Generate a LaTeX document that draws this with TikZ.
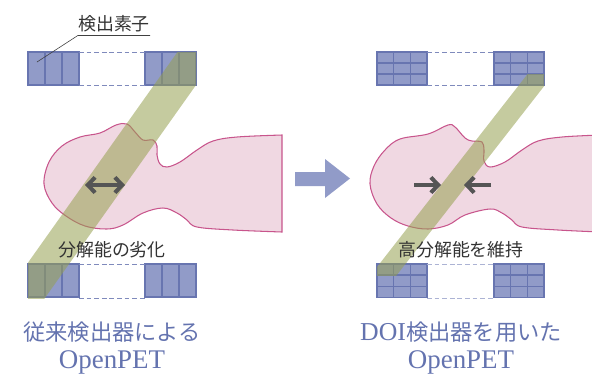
\documentclass[tikz,border=0pt]{standalone}
\usepackage{fontspec}
\setmainfont{Noto Sans CJK JP}
\newfontfamily\petfont{Liberation Serif}
\usepackage{xcolor}
\usetikzlibrary{arrows.meta}

\definecolor{detblue}{RGB}{145,155,200}
\definecolor{detline}{RGB}{104,117,176}
\definecolor{skinfill}{RGB}{240,216,226}
\definecolor{skinline}{RGB}{200,85,140}
\definecolor{lorcol}{RGB}{150,160,80}
\definecolor{arrgray}{RGB}{85,85,85}
\definecolor{ttlblue}{RGB}{100,115,175}

\tikzset{
  cell/.style={fill=detblue, draw=detline, line width=1.1pt},
  gap/.style={draw=detline!85, line width=0.8pt, dash pattern=on 4pt off 2.5pt},
  patient/.style={fill=skinfill, draw=skinline, line width=0.9pt},
  lor/.style={fill=lorcol, fill opacity=0.55},
  dir/.style={draw=arrgray, line width=3.4pt},
  lbl/.style={text=black!80, font=\fontsize{15.3}{15}\selectfont, inner sep=0pt},
  ttl/.style={text=ttlblue, inner sep=0pt},
}

\begin{document}
\begin{tikzpicture}[x=0.3mm, y=-0.3mm, >={Straight Barb[length=2.2mm,width=4.6mm]}]
\useasboundingbox (0,0) rectangle (592,377);

% patients
\filldraw [patient] plot[smooth, tension=0.6] coordinates {(282,135) (237,137) (213,141) (197,150) (180,162) (167,167) (160,164) (157,155) (157,146) (153,140) (143,140) (135,132) (127,124) (116,125) (100,133) (80,137) (62,146) (49,162) (44,184) (52,203) (66,216) (85,226) (107,229) (123,225) (143,213) (163,208) (177,213) (187,220) (197,227) (233,230) (282,232)} -- cycle;
\begin{scope}
\clip (0,0) rectangle (592,377);
\filldraw [patient] plot[smooth, tension=0.6] coordinates {(600,135) (562,137) (538,141) (522,150) (505,162) (490,167) (484,161) (484,150) (482,142) (472,141) (465,138) (455,127) (448,125) (428,134) (400,139) (385,150) (374,166) (370,184) (377,204) (391,218) (408,226) (428,229) (448,225) (465,215) (490,209) (502,213) (512,220) (522,227) (558,230) (600,232)} -- cycle;
\end{scope}

% conventional detectors
\foreach \x in {28,45,62,145,162,179}
  \foreach \y in {52,264}
    \draw [cell] (\x,\y) rectangle ++(17,33);
\draw [gap] (79,52) -- (145,52);
\draw [gap] (79,85) -- (145,85);
\draw [gap] (79,264) -- (145,264);
\draw [gap] (79,298) -- (145,298);

% DOI detectors
\foreach \x in {377,393.67,410.33,494,510.67,527.33}
  \foreach \y in {52,63,74,264,275.33,286.67}
    \draw [cell] (\x,\y) rectangle ++(16.67,11);
\draw [gap] (427,52) -- (494,52);
\draw [gap] (427,85) -- (494,85);
\draw [gap, draw=detline!55] (427,264) -- (494,264);
\draw [gap, draw=detline!55] (427,298) -- (494,298);

% lines of response
\begin{scope}
\clip (28,52) rectangle (196,298);
\fill [lor] (186,40) -- (228,40) -- (36.4,310) -- (-5.6,310) -- cycle;
\end{scope}
\begin{scope}
\clip (377,74) rectangle (544,275.3);
\fill [lor] (538.5,60) -- (564.5,60) -- (385.1,290) -- (359.1,290) -- cycle;
\end{scope}

% resolution arrows
\coordinate (blurl) at (85,185);
\coordinate (blurr) at (125,185);
\draw [dir, <->] (blurl) -- (blurr);
\coordinate (keepl) at (414,185);
\coordinate (keeplt) at (441,185);
\coordinate (keepr) at (491,185);
\coordinate (keeprt) at (464,185);
\draw [dir, ->] (keepl) -- (keeplt);
\draw [dir, ->] (keepr) -- (keeprt);

% big arrow
\fill [detblue] (295,172) -- (325,172) -- (325,159) -- (350,178.5) -- (325,198) -- (325,186) -- (295,186) -- cycle;

% labels
\node [lbl, inner ysep=2.5pt] (detlbl) at (114,24) {検出素子};
\coordinate (detpt) at (37,62);
\draw [black!75, line width=0.5pt] (detlbl.south east) -- (detlbl.south west) -- (detpt);
\node [lbl] (worse) at (112,250) {分解能の劣化};
\node [lbl] (keep) at (461,250) {高分解能を維持};

\node [ttl, font=\fontsize{19}{19}\selectfont] (oldttl) at (112,332) {従来検出器による};
\node [ttl, font=\petfont\fontsize{23}{23}\selectfont] (oldpet) at (112,362) {OpenPET};
\node [ttl, font=\fontsize{19}{19}\selectfont] (doittl) at (461,332) {{\petfont\fontsize{22}{22}\selectfont DOI}検出器を用いた};
\node [ttl, font=\petfont\fontsize{23}{23}\selectfont] (doipet) at (461,362) {OpenPET};
\end{tikzpicture}
\end{document}
